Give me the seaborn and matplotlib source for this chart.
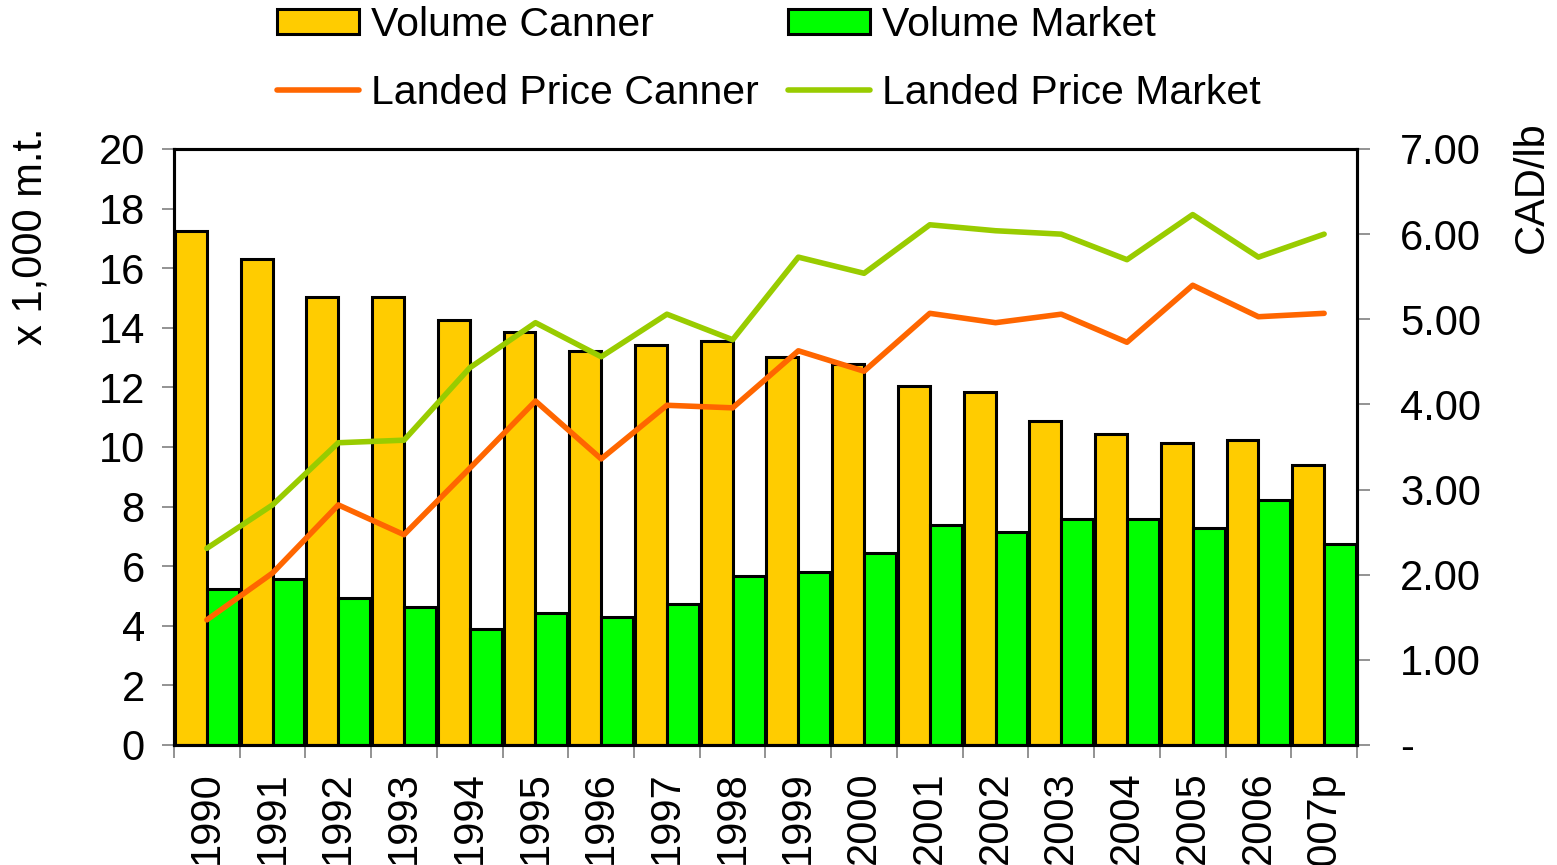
import numpy as np
import pandas as pd
import matplotlib
matplotlib.use("Agg")
import matplotlib.pyplot as plt
from matplotlib.ticker import FuncFormatter, FixedLocator
from matplotlib.patches import Patch
from matplotlib.lines import Line2D
import seaborn as sns

# ---- data ----
years = ["1990", "1991", "1992", "1993", "1994", "1995", "1996", "1997", "1998",
         "1999", "2000", "2001", "2002", "2003", "2004", "2005", "2006", "2007p"]
volume_canner = [17.25, 16.3, 15.05, 15.05, 14.27, 13.87, 13.22, 13.42, 13.55,
                 13.03, 12.8, 12.05, 11.85, 10.87, 10.45, 10.12, 10.23, 9.38]
volume_market = [5.25, 5.57, 4.93, 4.62, 3.88, 4.42, 4.3, 4.73, 5.67,
                 5.8, 6.43, 7.38, 7.15, 7.6, 7.58, 7.28, 8.23, 6.75]
price_canner = [1.47, 2.02, 2.82, 2.47, 3.25, 4.04, 3.36, 3.99, 3.96,
                4.63, 4.39, 5.07, 4.96, 5.06, 4.73, 5.40, 5.03, 5.07]
price_market = [2.31, 2.82, 3.55, 3.58, 4.43, 4.96, 4.56, 5.06, 4.76,
                5.73, 5.54, 6.11, 6.04, 6.00, 5.70, 6.23, 5.73, 6.00]

SERIES = ["Volume Canner", "Volume Market"]
BAR_COLORS = ["#FFCC00", "#00FF00"]
LINE_COLORS = ["#FF6600", "#99CC00"]

FS = 30
LW_LINE = 4.0
LW_EDGE = 2.2
W, H = 1557, 865

sns.set_style("ticks")
plt.rcParams['font.family'] = ['Liberation Sans', 'DejaVu Sans']
plt.rcParams['text.color'] = 'black'
plt.rcParams['xtick.labelcolor'] = 'black'
plt.rcParams['ytick.labelcolor'] = 'black'
plt.rcParams['axes.labelcolor'] = 'black'

df = pd.DataFrame({
    "year": years * 2,
    "volume": volume_canner + volume_market,
    "series": [SERIES[0]] * len(years) + [SERIES[1]] * len(years),
})

fig = plt.figure(figsize=(W / 100, H / 100), dpi=100)
ax = fig.add_axes([174 / W, 1 - 745 / H, (1357 - 174) / W, (745 - 149) / H])

sns.barplot(data=df, x="year", y="volume", hue="series", order=years,
            hue_order=SERIES, palette=BAR_COLORS, width=0.97, gap=0,
            edgecolor="black", linewidth=LW_EDGE, saturation=1, ax=ax, legend=False)

ax2 = ax.twinx()
n = len(years)
sns.lineplot(x=np.arange(n), y=price_canner, color=LINE_COLORS[0], lw=LW_LINE, ax=ax2)
sns.lineplot(x=np.arange(n), y=price_market, color=LINE_COLORS[1], lw=LW_LINE, ax=ax2)

# axes limits and ticks
ax.set_xlim(-0.5, n - 0.5)
ax.set_ylim(0, 20)
ax2.set_ylim(0, 7)
ax.set_yticks(np.arange(0, 21, 2))
ax2.set_yticks(np.arange(0, 8, 1))
ax2.yaxis.set_major_formatter(FuncFormatter(lambda v, p: "-" if v == 0 else f"{v:.2f}"))

ax.set_xticks(np.arange(n))
ax.set_xticklabels(years, rotation=90, fontsize=FS)
ax.xaxis.set_minor_locator(FixedLocator(np.arange(-0.5, n, 1)))
ax.tick_params(axis="x", which="major", length=0, pad=19)
ax.tick_params(axis="x", which="minor", length=9, width=1.2, color="#808080", direction="out")
ax.tick_params(axis="y", length=9, width=1.2, color="#808080", direction="out",
               labelsize=FS, pad=12)
ax2.tick_params(axis="y", length=9, width=1.2, color="#808080", direction="out",
                labelsize=FS, pad=22)

for a in (ax, ax2):
    for s in a.spines.values():
        s.set_linewidth(2.2)
        s.set_color("black")

ax.set_xlabel("")
ax.set_ylabel("x 1,000 m.t.", fontsize=FS)
ax.yaxis.set_label_coords(-0.104, 0.854)
ax2.set_ylabel("CAD/lb", fontsize=FS)
ax2.yaxis.set_label_coords(1.1310, 0.936)

# legend across the top, two rows
handles = [
    Patch(facecolor=BAR_COLORS[0], edgecolor="black", linewidth=LW_EDGE),
    Line2D([], [], color=LINE_COLORS[0], lw=LW_LINE),
    Patch(facecolor=BAR_COLORS[1], edgecolor="black", linewidth=LW_EDGE),
    Line2D([], [], color=LINE_COLORS[1], lw=LW_LINE),
]
labels = ["Volume Canner", "Landed Price Canner", "Volume Market", "Landed Price Market"]
fig.legend(handles, labels, loc="upper left", bbox_to_anchor=(277 / W, 1 - 6 / H),
           ncol=2, frameon=False, fontsize=29.5, borderpad=0, borderaxespad=0,
           handlelength=2.0, handleheight=0.55, handletextpad=0.3,
           columnspacing=0.7, labelspacing=0.72)

fig.savefig("out.png", dpi=100)
